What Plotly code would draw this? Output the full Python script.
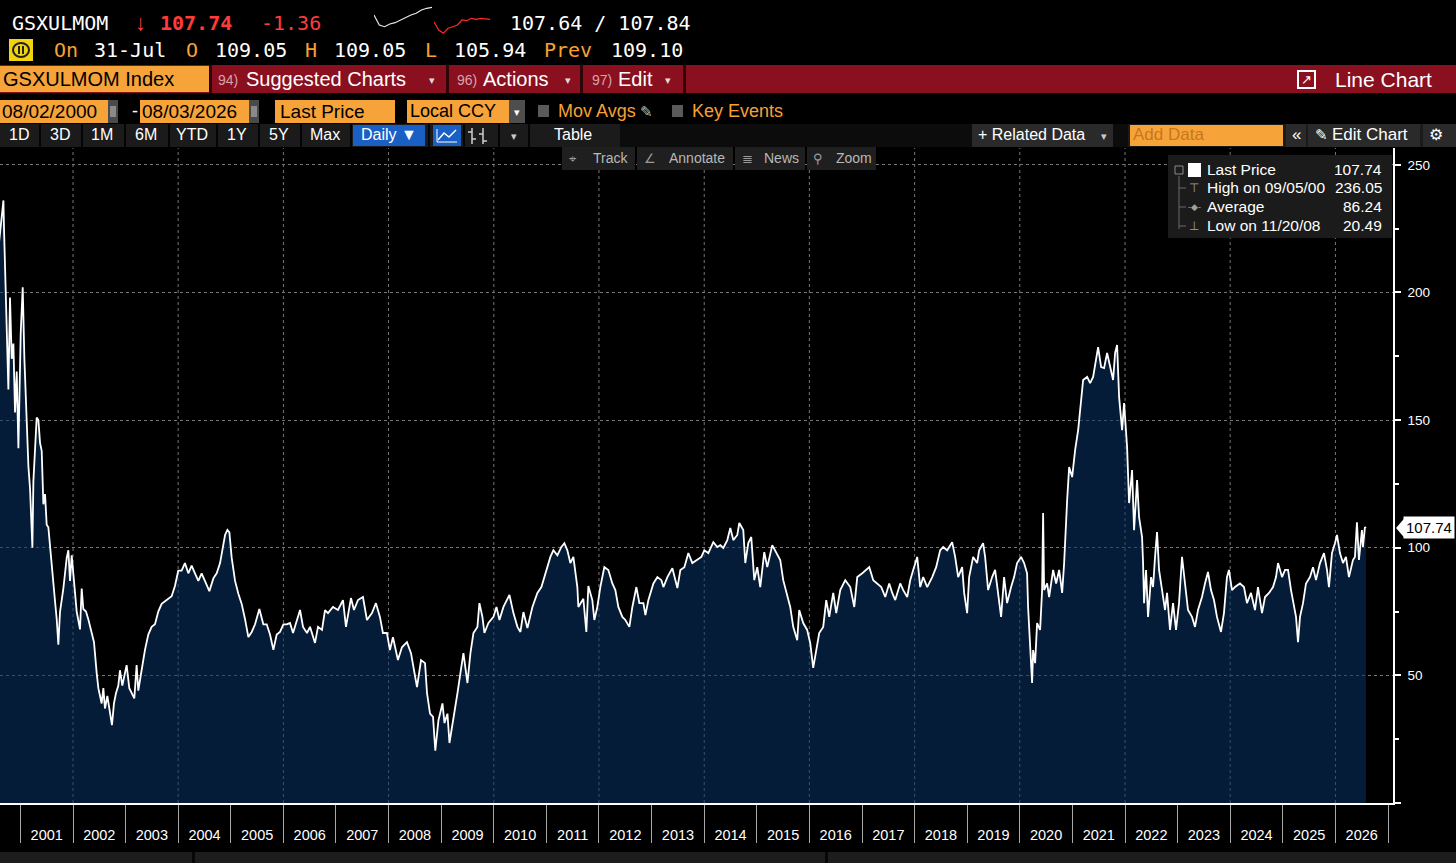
import plotly.graph_objects as go
from datetime import datetime, timedelta

W, H = 1456, 863

# ---------------- data ----------------
# observation times as decimal years, and index levels
YEARS = [
    2000.585, 2000.677, 2000.688, 2000.707, 2000.739, 2000.771, 2000.802, 2000.834, 2000.866, 2000.897, 2000.929, 2000.961,
    2001.005, 2001.043, 2001.075, 2001.106, 2001.151, 2001.183, 2001.227, 2001.246, 2001.278, 2001.309, 2001.341, 2001.373,
    2001.404, 2001.436, 2001.468, 2001.499, 2001.531, 2001.563, 2001.594, 2001.626, 2001.658, 2001.690, 2001.721, 2001.753,
    2001.785, 2001.816, 2001.848, 2001.880, 2001.911, 2001.943, 2001.975,
    2002.006, 2002.038, 2002.070, 2002.133, 2002.165, 2002.196, 2002.247, 2002.291, 2002.355, 2002.399, 2002.450, 2002.482,
    2002.513, 2002.545, 2002.577, 2002.608, 2002.653, 2002.703, 2002.741, 2002.779, 2002.817, 2002.862, 2002.893, 2002.938, 2002.989,
    2003.020, 2003.071, 2003.115, 2003.166, 2003.210, 2003.242, 2003.305, 2003.369, 2003.432, 2003.496, 2003.559, 2003.622,
    2003.686, 2003.749, 2003.812, 2003.876, 2003.939,
    2004.002, 2004.066, 2004.129, 2004.193, 2004.256, 2004.319, 2004.383, 2004.446, 2004.509, 2004.592, 2004.668, 2004.731,
    2004.795, 2004.845, 2004.890, 2004.934, 2004.972,
    2005.016, 2005.080, 2005.143, 2005.206, 2005.270, 2005.333, 2005.397, 2005.460, 2005.542, 2005.618, 2005.682, 2005.745,
    2005.809, 2005.872, 2005.935, 2005.999,
    2006.062, 2006.125, 2006.183, 2006.258, 2006.316, 2006.373, 2006.449, 2006.506, 2006.601, 2006.658, 2006.734, 2006.791,
    2006.848, 2006.943,
    2007.038, 2007.133, 2007.190, 2007.285, 2007.342, 2007.418, 2007.513, 2007.589, 2007.684, 2007.760, 2007.836, 2007.893, 2007.969,
    2008.026, 2008.083, 2008.178, 2008.254, 2008.349, 2008.426, 2008.483, 2008.540, 2008.616, 2008.692, 2008.730, 2008.787,
    2008.844, 2008.887, 2008.947,
    2009.023, 2009.061, 2009.118, 2009.156, 2009.232, 2009.308, 2009.365, 2009.422, 2009.498, 2009.555, 2009.612, 2009.688,
    2009.726, 2009.783, 2009.821, 2009.897, 2009.993,
    2010.050, 2010.107, 2010.183, 2010.297, 2010.373, 2010.449, 2010.506, 2010.563, 2010.639, 2010.734, 2010.829, 2010.905, 2010.981,
    2011.076, 2011.133, 2011.209, 2011.285, 2011.342, 2011.399, 2011.456, 2011.513, 2011.589, 2011.608, 2011.703, 2011.760,
    2011.798, 2011.874, 2011.912, 2011.969,
    2012.026, 2012.102, 2012.178, 2012.254, 2012.311, 2012.368, 2012.444, 2012.501, 2012.577, 2012.634, 2012.710, 2012.767,
    2012.843, 2012.881, 2012.938,
    2013.033, 2013.109, 2013.185, 2013.223, 2013.299, 2013.394, 2013.489, 2013.546, 2013.622, 2013.698, 2013.774, 2013.850, 2013.945,
    2014.002, 2014.078, 2014.173, 2014.249, 2014.306, 2014.363, 2014.439, 2014.496, 2014.553, 2014.629, 2014.667, 2014.743,
    2014.781, 2014.838, 2014.895, 2014.952,
    2015.009, 2015.066, 2015.142, 2015.199, 2015.294, 2015.370, 2015.446, 2015.503, 2015.579, 2015.636, 2015.693, 2015.769,
    2015.807, 2015.883, 2015.959,
    2016.016, 2016.073, 2016.130, 2016.187, 2016.263, 2016.320, 2016.377, 2016.453, 2016.510, 2016.586, 2016.681, 2016.776,
    2016.852, 2016.909,
    2017.004, 2017.080, 2017.137, 2017.213, 2017.289, 2017.365, 2017.441, 2017.517, 2017.574, 2017.631, 2017.726, 2017.783,
    2017.859, 2017.916, 2017.973,
    2018.049, 2018.106, 2018.163, 2018.239, 2018.334, 2018.410, 2018.486, 2018.543, 2018.619, 2018.714, 2018.771, 2018.828,
    2018.904, 2018.942, 2018.999,
    2019.037, 2019.113, 2019.189, 2019.227, 2019.303, 2019.341, 2019.398, 2019.474, 2019.531, 2019.588, 2019.645, 2019.702,
    2019.759, 2019.835, 2019.892, 2019.949,
    2020.025, 2020.082, 2020.139, 2020.158, 2020.196, 2020.234, 2020.253, 2020.291, 2020.329, 2020.386, 2020.424, 2020.443,
    2020.462, 2020.519, 2020.557, 2020.633, 2020.690, 2020.747, 2020.804, 2020.842, 2020.899, 2020.937, 2020.994,
    2021.051, 2021.108, 2021.165, 2021.203, 2021.279, 2021.336, 2021.393, 2021.450, 2021.488, 2021.545, 2021.602, 2021.659,
    2021.716, 2021.773, 2021.811, 2021.849, 2021.887, 2021.944, 2021.982,
    2022.039, 2022.077, 2022.134, 2022.172, 2022.229, 2022.267, 2022.324, 2022.343, 2022.362, 2022.400, 2022.438, 2022.495,
    2022.533, 2022.571, 2022.609, 2022.647, 2022.704, 2022.761, 2022.799, 2022.856, 2022.913, 2022.970,
    2023.027, 2023.084, 2023.141, 2023.198, 2023.274, 2023.331, 2023.388, 2023.464, 2023.521, 2023.578, 2023.635, 2023.692,
    2023.749, 2023.825, 2023.882, 2023.939, 2023.977,
    2024.034, 2024.091, 2024.186, 2024.262, 2024.319, 2024.395, 2024.471, 2024.528, 2024.604, 2024.661, 2024.737, 2024.813,
    2024.870, 2024.908, 2024.984,
    2025.041, 2025.098, 2025.155, 2025.193, 2025.250, 2025.288, 2025.326, 2025.383, 2025.440, 2025.516, 2025.573, 2025.630,
    2025.706, 2025.782, 2025.839, 2025.877, 2025.934, 2025.991,
    2026.029, 2026.086, 2026.143, 2026.200, 2026.257, 2026.333, 2026.371, 2026.409, 2026.447, 2026.504, 2026.523, 2026.561, 2026.580,
]
PRICES = [
    218, 236.05, 225, 208, 180, 162, 198, 174, 180, 153, 169, 139,
    184, 202, 174, 156, 132, 123, 100, 126, 141, 151, 150, 141,
    138, 117, 121, 109, 108, 100, 93, 87, 79, 72, 62, 75,
    79, 84, 90, 96, 99, 87, 97,
    90, 84, 75, 68, 84, 76, 75, 72, 66, 63, 51, 45,
    42, 39, 45, 37, 42, 36, 30.5, 39, 43, 46, 52, 46, 51,
    54, 45, 43, 41, 54, 44, 52, 60, 66, 69, 70, 75,
    78, 79, 80, 81, 85,
    91, 91, 94, 90, 93, 90, 87, 90, 87, 83, 88, 90,
    94, 100, 105, 107, 106,
    96, 87, 82, 78, 72, 65, 67, 70, 76, 70, 70, 66,
    60, 66, 67, 70,
    70, 70.5, 66.6, 71.7, 75.6, 69, 66.6, 69, 62.7, 69, 67.8, 75.6,
    74.4, 76.8,
    75.6, 79.5, 69, 80.3, 75.6, 79.5, 80.7, 71.7, 74.4, 78.3, 72.9, 66.6, 66.6,
    59.9, 65, 56, 61, 63, 58.7, 52, 45.4, 56, 54.8, 43, 35,
    33.7, 20.49, 32.5,
    39, 31.3, 35, 23.5, 32.5, 43, 51, 58.7, 47, 58.7, 66.6, 69,
    78.3, 72.9, 66.6, 70.5, 72.9,
    76.8, 71.7, 76.8, 81.5, 74.4, 69, 67, 74.8, 68.5, 76.8, 82.3, 84.6, 90,
    96.4, 99, 97, 100.3, 101.8, 99, 94, 96.4, 84.6, 76.8, 80, 67,
    85, 79.5, 71.7, 76.8,
    84.6, 92.4, 91.3, 86, 83.4, 76.8, 72.9, 71.7, 69, 76.8, 84.6, 78.3,
    78.3, 73.6, 79.5,
    86, 88.5, 87.3, 84.6, 88.5, 92, 84.2, 91.3, 92.4, 97.9, 94, 95.2, 96.4,
    99, 97.9, 102.2, 100.3, 101, 99.9, 103, 107.7, 103, 105, 109.7, 106.9,
    94, 101.8, 104.2, 87.3,
    92.4, 84.6, 98.3, 92.4, 101, 97.9, 95.2, 87.3, 80.7, 76.8, 69, 63.8,
    75.6, 70.5, 67.8,
    62.7, 52.9, 59.9, 66.6, 69, 79.5, 72.9, 82.3, 74.4, 83.4, 87.3, 84.6,
    76.8, 88.5,
    90, 91.3, 92.4, 87.3, 86, 84.6, 80.7, 86, 82.3, 79.5, 86, 83.4,
    80.7, 87.3, 91.3,
    96.4, 84.6, 88.5, 84.6, 88.5, 92.4, 99, 100.3, 99, 102.2, 96.4, 88.5,
    92.4, 82.3, 74.4,
    88.5, 96.4, 94, 99, 101.8, 96.4, 83.4, 88.5, 91.3, 82.3, 72.9, 88.5,
    78.3, 84.6, 88.5, 94,
    96.4, 94, 90, 76.8, 63.8, 47, 59.9, 54.8, 70.5, 67.8, 83.4, 113.6,
    83.4, 86, 80.7, 91.3, 86, 91.3, 82.3, 94, 118.7, 131.6, 127.7,
    138.3, 146.1, 159, 165.7, 166.9, 164.5, 166.9, 174.7, 178.6, 170.8, 170.4, 176.3,
    170.8, 165.7, 176.3, 179.4, 159, 146.1, 156.7,
    139.4, 117.5, 130.4, 106.9, 126.5, 112, 104.2, 94, 78.3, 91.3, 72.9, 88.5,
    84.6, 96.4, 106.1, 91.3, 83.4, 75.6, 82.3, 67.8, 78.3, 67.8,
    78.3, 96.4, 86, 75.6, 72.9, 69, 75.6, 80.7, 86, 90.5, 83.4, 79.5,
    72.9, 67, 74.4, 88.5, 91.3,
    83.4, 84.6, 86, 84.6, 78.3, 82.3, 75.6, 84.6, 74.4, 80.7, 82.3, 84.6,
    88.5, 94, 88.5,
    91.3, 91.3, 83.4, 79.5, 72.9, 63, 72.9, 78.3, 86, 88.5, 92.4, 87.3,
    94, 97.9, 91.3, 84.6, 97.9, 101.8,
    105, 97.9, 94, 96.4, 88.5, 95.2, 96.4, 110, 95.2, 106.9, 100.3, 108.1, 107.74,
]
LAST_PRICE = 107.74
Y_TICKS = [0, 50, 100, 150, 200, 250]
Y_TICK_TEXT = ["", "50", "100", "150", "200", "250"]
Y_MINOR = [25, 75, 125, 175, 225]
GRID_YEARS = list(range(2002, 2027, 2))
STAT_LABELS = ["Last Price", "High on 09/05/00", "Average", "Low on 11/20/08"]
STAT_VALUES = ["107.74", "236.05", "86.24", "20.49"]
SPARK_PREV = [21, 11, 9.3, 12, 13.3, 16, 18.7, 21, 22.7, 26, 27.7, 28.7]
SPARK_TODAY = [14.3, 6, 2.7, 7.7, 9.3, 11, 16, 15.3, 17.7, 16.7, 17.7, 17.3, 16.7]


def to_date(t):
    y = int(t)
    n = 366 if (y % 4 == 0 and (y % 100 != 0 or y % 400 == 0)) else 365
    return datetime(y, 1, 1) + timedelta(days=(t - y) * n)


dates = [to_date(t) for t in YEARS]

SANS = "Liberation Sans, Arial, sans-serif"
MONO = "DejaVu Sans Mono, Liberation Mono, monospace"
ORANGE_BOX = "#f6a33a"
ORANGE_TXT = "#f7a133"
RED = "#ff3b3b"


def px(x):
    return x / W


def py(y):
    return 1 - y / H


shapes = []
annotations = []


def rect(x0, y0, x1, y1, color, line_color=None, lw=0):
    shapes.append(dict(type="rect", xref="paper", yref="paper",
                       x0=px(x0), x1=px(x1), y0=py(y1), y1=py(y0),
                       fillcolor=color, layer="above",
                       line=dict(width=lw, color=line_color or color)))


def seg(x0, y0, x1, y1, color, lw=1):
    shapes.append(dict(type="line", xref="paper", yref="paper",
                       x0=px(x0), x1=px(x1), y0=py(y0), y1=py(y1),
                       layer="above", line=dict(color=color, width=lw)))


def text(x, y, s, color="white", size=18, family=SANS, anchor="left"):
    annotations.append(dict(xref="paper", yref="paper", x=px(x), y=py(y), text=s,
                            showarrow=False, xanchor=anchor, yanchor="middle",
                            font=dict(color=color, size=size, family=family)))


fig = go.Figure()

# main area series
fig.add_trace(go.Scatter(
    x=dates, y=PRICES, mode="lines", fill="tozeroy",
    fillcolor="rgba(7,51,102,0.55)",
    line=dict(color="white", width=1.8), hoverinfo="skip", showlegend=False,
))

# header sparklines
fig.add_trace(go.Scatter(x=list(range(len(SPARK_PREV))), y=SPARK_PREV, mode="lines",
                         line=dict(color="#e8e8e8", width=1.2), xaxis="x2", yaxis="y2",
                         showlegend=False, hoverinfo="skip"))
fig.add_trace(go.Scatter(x=list(range(len(SPARK_TODAY))), y=SPARK_TODAY, mode="lines",
                         line=dict(color="#ff2a2a", width=1.2), xaxis="x3", yaxis="y3",
                         showlegend=False, hoverinfo="skip"))

# vertical dotted gridlines every second year
for g in GRID_YEARS:
    shapes.append(dict(type="line", xref="x", yref="y domain", x0=to_date(g), x1=to_date(g),
                       y0=0, y1=1, layer="below", line=dict(color="#767676", width=1, dash="dot")))

# ---------------- header UI ----------------
# row 1
text(10, 23, "GSXULMOM", "white", 20, MONO)
text(133, 23, "<b>↓</b>", RED, 22, SANS)
text(158, 23, "<b>107.74</b>", RED, 20, MONO)
text(259, 23, "-1.36", RED, 20, MONO)
text(508, 23, "107.64 / 107.84", "white", 20, MONO)

# row 2
rect(9, 39, 33, 61, "#f2d40c")
shapes.append(dict(type="circle", xref="paper", yref="paper", x0=px(13), x1=px(29), y0=py(57), y1=py(43),
                   layer="above", line=dict(color="#222", width=2)))
seg(19, 46, 19, 54, "#222", 2)
seg(23, 46, 23, 54, "#222", 2)
text(52, 50, "On", ORANGE_TXT, 20, MONO)
text(92, 50, "31-Jul", "white", 20, MONO)
text(184, 50, "O", ORANGE_TXT, 20, MONO)
text(213, 50, "109.05", "white", 20, MONO)
text(303, 50, "H", ORANGE_TXT, 20, MONO)
text(332, 50, "109.05", "white", 20, MONO)
text(423, 50, "L", ORANGE_TXT, 20, MONO)
text(452, 50, "105.94", "white", 20, MONO)
text(542, 50, "Prev", ORANGE_TXT, 20, MONO)
text(609, 50, "109.10", "white", 20, MONO)

# row 3 (red bar)
rect(0, 65, W, 93, "#8a0f1f")
rect(0, 66, 209, 92, ORANGE_BOX)
text(1, 79, "GSXULMOM Index", "black", 20)
for sx in (209, 446, 580, 683):
    rect(sx, 65, sx + 3, 93, "#2e0508")
text(216, 80, "94)", "#d9a3ab", 14)
text(244, 79, "Suggested Charts", "white", 20)
text(432, 80, "▾", "#dddddd", 11, anchor="center")
text(455, 80, "96)", "#d9a3ab", 14)
text(481, 79, "Actions", "white", 20)
text(568, 80, "▾", "#dddddd", 11, anchor="center")
text(590, 80, "97)", "#d9a3ab", 14)
text(616, 79, "Edit", "white", 20)
text(668, 80, "▾", "#dddddd", 11, anchor="center")
rect(1298, 71, 1315, 88, "rgba(0,0,0,0)", "white", 2)
text(1306, 79, "↗", "white", 13, anchor="center")
text(1333, 79, "Line Chart", "white", 21)

# row 4
rect(0, 100, 108, 123, ORANGE_BOX)
text(0, 111, "08/02/2000", "black", 19)
rect(108, 100, 118, 123, "#4a4a4a")
rect(110, 106, 116, 117, "#8a8a8a")
text(130, 111, "-", "white", 18)
rect(140, 100, 249, 123, ORANGE_BOX)
text(140, 111, "08/03/2026", "black", 19)
rect(249, 100, 259, 123, "#4a4a4a")
rect(251, 106, 257, 117, "#8a8a8a")
rect(275, 100, 395, 123, ORANGE_BOX)
text(278, 111, "Last Price", "black", 19)
rect(407, 100, 509, 123, ORANGE_BOX)
text(408, 111, "Local CCY", "black", 18)
rect(509, 100, 525, 123, "#4e4e4e")
text(517, 112, "▾", "white", 11, anchor="center")
rect(538, 105, 549, 117, "#5a5a5a")
text(556, 111, "Mov Avgs", ORANGE_TXT, 18)
text(638, 111, "✎", "#bbbbbb", 15)
rect(672, 105, 683, 117, "#5a5a5a")
text(690, 111, "Key Events", ORANGE_TXT, 18)

# row 5 toolbar
rect(0, 124, W, 147, "#1b1b1b")
for sx in (39, 81, 124, 168, 216, 258, 300, 350, 428, 463, 498, 528, 620):
    rect(sx, 124, sx + 2, 147, "#050505")
for lbl, cx in (("1D", 19), ("3D", 60), ("1M", 102), ("6M", 146), ("YTD", 192),
                ("1Y", 237), ("5Y", 279), ("Max", 325)):
    text(cx, 135, lbl, "white", 16, anchor="center")
rect(353, 125, 425, 146, "#1a5fc4")
text(389, 135, "Daily ▼", "white", 16, anchor="center")
rect(433, 125, 461, 146, "#1a5fc4")
shapes.append(dict(type="path", xref="paper", yref="paper", layer="above",
                   path="M{},{} L{},{} L{},{} L{},{}".format(px(438), py(140), px(444), py(133),
                                                       px(449), py(137), px(456), py(130)),
                   line=dict(color="white", width=1.5)))
seg(437, 129, 437, 142, "white", 1)
seg(437, 142, 457, 142, "white", 1)
seg(472, 128, 472, 144, "#cfcfcf", 1.5)
seg(468, 132, 472, 132, "#cfcfcf", 1.5)
seg(472, 139, 476, 139, "#cfcfcf", 1.5)
seg(483, 128, 483, 144, "#cfcfcf", 1.5)
seg(479, 134, 483, 134, "#cfcfcf", 1.5)
seg(483, 141, 487, 141, "#cfcfcf", 1.5)
text(514, 136, "▾", "#cccccc", 11, anchor="center")
text(573, 135, "Table", "white", 16, anchor="center")
rect(620, 124, 972, 147, "#0c0c0c")
rect(972, 124, 1113, 147, "#2a2a2a")
text(976, 135, "+ Related Data", "white", 16)
text(1104, 136, "▾", "#cccccc", 11, anchor="center")
rect(1113, 124, 1128, 147, "#0c0c0c")
rect(1130, 125, 1283, 146, ORANGE_BOX)
text(1131, 135, "Add Data", "#c8771a", 17)
rect(1286, 124, 1306, 147, "#2a2a2a")
text(1296, 135, "«", "white", 17, anchor="center")
rect(1308, 124, 1420, 147, "#2a2a2a")
text(1313, 135, "✎", "white", 15)
text(1330, 135, "Edit Chart", "white", 17)
rect(1423, 124, W, 147, "#2a2a2a")
text(1436, 135, "⚙", "white", 16, anchor="center")

# row 6 small tools
for x0, x1 in ((562, 635), (637, 733), (735, 805), (807, 876)):
    rect(x0, 147, x1, 170, "#1f1f1f")
text(567, 158, "⌖", "#9a9a9a", 13)
text(591, 158, "Track", "#b8b8b8", 14)
text(642, 158, "∠", "#9a9a9a", 13)
text(667, 158, "Annotate", "#b8b8b8", 14)
text(740, 158, "≣", "#9a9a9a", 13)
text(762, 158, "News", "#b8b8b8", 14)
text(811, 158, "⚲", "#9a9a9a", 13)
text(834, 158, "Zoom", "#b8b8b8", 14)

# stats box
rect(1168, 155, 1392, 238, "#1b1b1b")
seg(1179, 176, 1179, 229, "#6a6a6a", 1)
for yy in (188, 207, 226):
    seg(1179, yy, 1186, yy, "#6a6a6a", 1)
rect(1175, 166, 1183, 174, "#1b1b1b", "#8a8a8a", 1)
rect(1188, 163, 1201, 177, "white")
icons = ["", "⊤", "-◆-", "⊥"]
rows_y = [170, 188, 207, 226]
for lbl, val, ic, yy in zip(STAT_LABELS, STAT_VALUES, icons, rows_y):
    if ic:
        text(1194, yy, ic, "#a0a0a0", 9 if ic == "-◆-" else 12, anchor="center")
    text(1205, yy, lbl, "white", 15.5)
    text(1384, yy, val, "white", 15.5, anchor="right")

# last price tag
annotations.append(dict(xref="paper", yref="y", x=px(1403), y=LAST_PRICE, text="107.74",
                        showarrow=False, xanchor="left", yanchor="middle", bgcolor="white",
                        borderpad=2, font=dict(color="black", size=15, family=SANS)))
shapes.append(dict(type="path", xref="paper", yref="y", layer="above",
                   path="M{},{} L{},{} L{},{} Z".format(px(1396), LAST_PRICE, px(1404), LAST_PRICE + 3.6,
                                                     px(1404), LAST_PRICE - 3.6),
                   fillcolor="white", line=dict(width=0)))

# bottom status strip
rect(0, 852, W, H, "#1d1d1d")
rect(192, 852, 195, H, "#070707")
rect(825, 852, 828, H, "#070707")

fig.update_layout(
    width=W, height=H,
    margin=dict(l=0, r=0, t=0, b=0),
    paper_bgcolor="black", plot_bgcolor="black",
    showlegend=False,
    shapes=shapes, annotations=annotations,
    xaxis=dict(
        domain=[0, px(1393)], type="date",
        range=[to_date(2000.612), to_date(2027.095)],
        tickmode="linear", tick0="2001-01-01", dtick="M12", tickformat="%Y",
        ticklabelmode="period", ticks="outside", ticklen=38, tickwidth=1, tickcolor="#a8a8a8",
        ticklabelstandoff=-20,
        tickfont=dict(color="white", size=14.5, family=SANS),
        showgrid=False, zeroline=False, showline=True, linecolor="white", linewidth=1.5,
        fixedrange=True,
    ),
    yaxis=dict(
        domain=[py(803), py(148)], range=[0, 256.6], side="right", anchor="x",
        tickmode="array", tickvals=Y_TICKS, ticktext=Y_TICK_TEXT, ticks="outside", ticklen=6, tickwidth=2,
        tickcolor="white", ticklabelstandoff=4,
        tickfont=dict(color="white", size=13.5, family=SANS),
        minor=dict(tickvals=Y_MINOR, ticks="outside", ticklen=4, tickcolor="white", showgrid=False),
        showgrid=True, gridcolor="#767676", griddash="dot", gridwidth=1,
        zeroline=False, showline=True, linecolor="white", linewidth=1.5, fixedrange=True,
    ),
    xaxis2=dict(domain=[px(374), px(432)], anchor="y2", visible=False, range=[0, 11]),
    yaxis2=dict(domain=[py(36), py(6)], anchor="x2", visible=False, range=[0, 30]),
    xaxis3=dict(domain=[px(434), px(490)], anchor="y3", visible=False, range=[0, 12]),
    yaxis3=dict(domain=[py(36), py(6)], anchor="x3", visible=False, range=[0, 30]),
)

fig.write_html(
    "out.html",
    config={"displayModeBar": False},
    post_script="document.body.style.margin='0px';document.body.style.padding='0px';"
                "document.body.style.overflow='hidden';",
)
